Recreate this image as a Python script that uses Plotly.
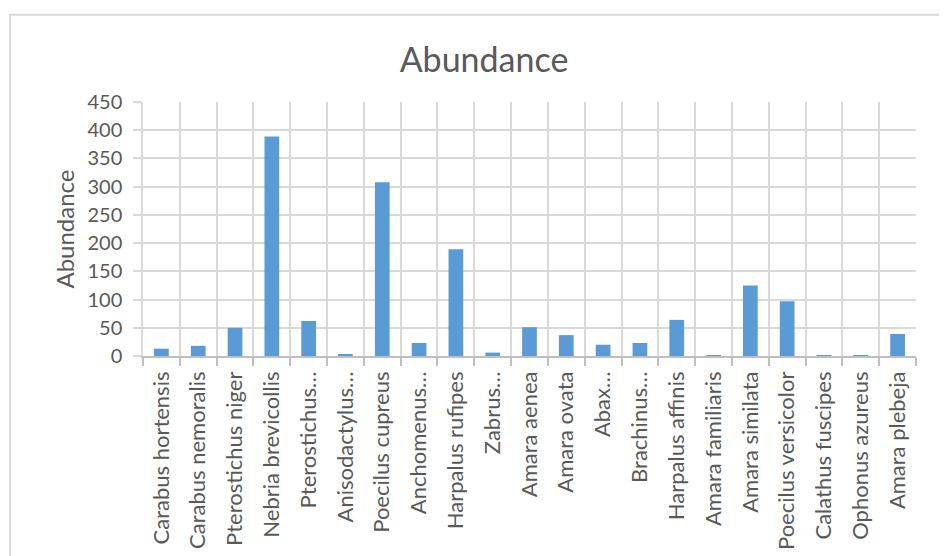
import plotly.graph_objects as go

species = [
    "Carabus hortensis", "Carabus nemoralis", "Pterostichus niger", "Nebria brevicollis",
    "Pterostichus…", "Anisodactylus…", "Poecilus cupreus", "Anchomenus…",
    "Harpalus rufipes", "Zabrus…", "Amara aenea", "Amara ovata", "Abax…",
    "Brachinus…", "Harpalus affinis", "Amara familiaris", "Amara similata",
    "Poecilus versicolor", "Calathus fuscipes", "Ophonus azureus", "Amara plebeja",
]
abundance = [13, 18, 50, 389, 62, 3, 308, 23, 189, 6, 51, 37, 20, 23, 64, 1, 125, 97, 1, 1, 39]
y_ticks = [0, 50, 100, 150, 200, 250, 300, 350, 400, 450]

OFF = 8  # page body margin
W, H = 947 - OFF, 556 - OFF
L, R, T, B = 143 - OFF, 916 - OFF, 101.7 - OFF, 355.7 - OFF
pw, ph = R - L, B - T

def px(x):
    return (x - OFF - L) / pw

def py(y):
    return (B - (y - OFF)) / ph

FONT = "Lato"
GREY = "#595959"

fig = go.Figure(go.Bar(
    x=species, y=abundance,
    marker=dict(color="#5B9BD5", line=dict(width=0)),
    width=0.4,
))

fig.update_layout(
    width=W, height=H,
    margin=dict(l=L, r=W - R, t=T, b=H - B, autoexpand=False),
    paper_bgcolor="white", plot_bgcolor="white",
    showlegend=False,
    title=dict(text="Abundance", x=(484 - OFF) / W, xref="container", xanchor="center",
               y=1 - (60 - OFF) / H, yref="container", yanchor="middle",
               font=dict(family=FONT, size=34, color=GREY)),
    font=dict(family=FONT, color=GREY),
)

fig.update_xaxes(
    type="category", tickson="boundaries", showgrid=True, gridcolor="#d9d9d9", gridwidth=1.5,
    ticks="outside", ticklen=8, tickcolor="#bfbfbf", tickwidth=1.5,
    showline=True, linecolor="#bfbfbf", linewidth=1.5,
    tickangle=-90, tickfont=dict(family=FONT, size=22, color=GREY),
    ticklabelstandoff=5,
)
fig.update_yaxes(
    range=[0, 450], tickvals=y_ticks, showgrid=True, gridcolor="#d9d9d9", gridwidth=1.5,
    ticks="outside", ticklen=8, tickcolor="#d9d9d9", tickwidth=1.5,
    showline=True, linecolor="#d9d9d9", linewidth=1.5, zeroline=False,
    tickfont=dict(family=FONT, size=20, color=GREY),
    ticklabelstandoff=7,
    title=dict(text="Abundance", font=dict(family=FONT, size=24, color=GREY), standoff=6),
)

fig.add_shape(type="rect", xref="paper", yref="paper",
              x0=px(10), x1=px(960), y0=py(570), y1=py(14.5),
              line=dict(color="#d9d9d9", width=2), fillcolor="rgba(0,0,0,0)", layer="below")

fig.write_html("out.html")
